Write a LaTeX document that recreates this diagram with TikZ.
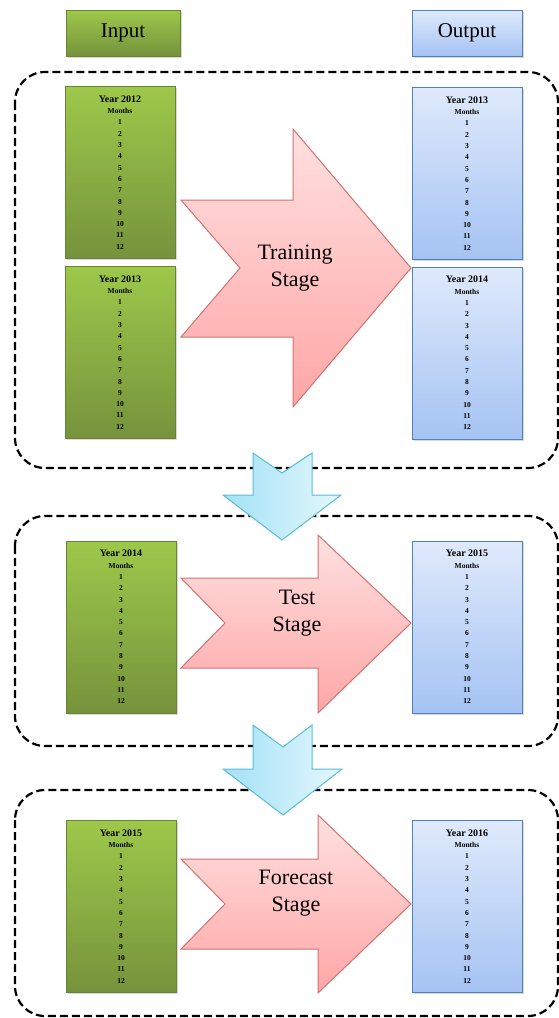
\documentclass[tikz,border=0pt]{standalone}
\usepackage{fontspec}
\setmainfont{Liberation Serif}
\usetikzlibrary{shadows}

\definecolor{greentop}{HTML}{9DC84A}
\definecolor{greenbot}{HTML}{76933C}
\definecolor{bluetop}{HTML}{DFEAFB}
\definecolor{bluebot}{HTML}{A5C3F3}
\definecolor{blueline}{HTML}{4F81BD}
\definecolor{redtop}{HTML}{FFE0E0}
\definecolor{redbot}{HTML}{FFA6A6}
\definecolor{redline}{HTML}{D07272}
\definecolor{cyanleft}{HTML}{A3E2F5}
\definecolor{cyanright}{HTML}{E4F7FD}
\definecolor{cyanline}{HTML}{5BBCD6}

\newcommand{\yearcol}[1]{{\fontsize{10}{11.3}\selectfont #1}\\Months\\1\\2\\3\\4\\5\\6\\7\\8\\9\\10\\11\\12}

\begin{document}
\begin{tikzpicture}[x=1pt,y=-1pt]
  \tikzstyle{shade}=[drop shadow={opacity=0.3,shadow xshift=1.5pt,shadow yshift=-1.5pt}]
  \tikzstyle{head}=[minimum height=46pt,inner sep=0pt,font=\fontsize{21}{24}\selectfont,shade]
  \tikzstyle{ingreen}=[top color=greentop,bottom color=greenbot,draw=greenbot!90!black,line width=0.3pt]
  \tikzstyle{outblue}=[top color=bluetop,bottom color=bluebot,draw=blueline,line width=1pt]
  \tikzstyle{yearbox}=[minimum width=110pt,minimum height=172pt,inner sep=0pt,align=center,
                       font=\fontsize{7.5}{11.3}\selectfont\bfseries,shade]
  \tikzstyle{stagebox}=[rounded corners=30pt,dashed,dash pattern=on 8pt off 4pt,line width=2.2pt]
  \tikzstyle{stage}=[top color=redtop,bottom color=redbot,draw=redline,line width=1pt]
  \tikzstyle{stagetext}=[align=center,font=\fontsize{22}{27}\selectfont]
  \tikzstyle{down}=[left color=cyanleft,right color=cyanright,draw=cyanline,line width=1pt]

  \useasboundingbox (0,0) rectangle (558,1018);

  % header
  \node[head,ingreen,minimum width=114pt] (input) at (123,33) {Input};
  \node[head,outblue,minimum width=110pt] (output) at (467,33) {Output};

  % dashed stage frames
  \draw[stagebox] (15,72) rectangle (558,468);
  \draw[stagebox] (15,516) rectangle (558,746);
  \draw[stagebox] (15,790) rectangle (558,1016);

  % training stage
  \node[yearbox,ingreen] (in12) at (120,172.5) {\yearcol{Year 2012}};
  \node[yearbox,ingreen] (in13) at (120,352.5) {\yearcol{Year 2013}};
  \node[yearbox,outblue] (out13) at (467,173.5) {\yearcol{Year 2013}};
  \node[yearbox,outblue] (out14) at (467,353) {\yearcol{Year 2014}};
  \draw[stage] (181,200) -- (293,200) -- (293,129) -- (411,268) -- (293,407)
    -- (293,337) -- (181,337) -- (240,268) -- cycle;
  \node[stagetext] (train) at (295,268) {Training\\Stage};

  \draw[down] (253,453) -- (282,473) -- (312,453) -- (312,495) -- (341,495)
    -- (282,540) -- (223,495) -- (253,495) -- cycle;

  % test stage
  \node[yearbox,ingreen] (in14) at (121,627) {\yearcol{Year 2014}};
  \node[yearbox,outblue] (out15) at (467,627) {\yearcol{Year 2015}};
  \draw[stage] (181,578) -- (318,578) -- (318,535) -- (411,623) -- (318,713)
    -- (318,668) -- (181,668) -- (225,623) -- cycle;
  \node[stagetext] (test) at (297,613) {Test\\Stage};

  \draw[down] (253,725) -- (283,747) -- (312,725) -- (312,769) -- (342,769)
    -- (283,815) -- (223,769) -- (253,769) -- cycle;

  % forecast stage
  \node[yearbox,ingreen] (in15) at (121,906.5) {\yearcol{Year 2015}};
  \node[yearbox,outblue] (out16) at (467,906.5) {\yearcol{Year 2016}};
  \draw[stage] (181,859) -- (318,859) -- (318,815) -- (411,904) -- (318,993)
    -- (318,949) -- (181,949) -- (225,904) -- cycle;
  \node[stagetext] (forecast) at (296,893) {Forecast\\Stage};
\end{tikzpicture}
\end{document}
